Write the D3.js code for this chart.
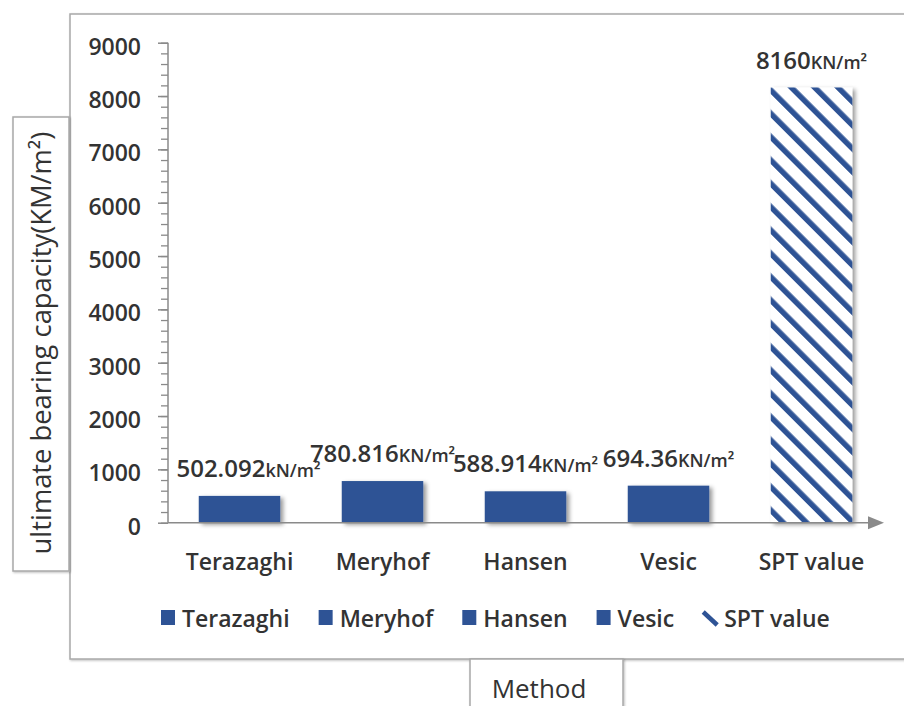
<!DOCTYPE html>
<html>
<head>
<meta charset="utf-8">
<script src="https://cdn.jsdelivr.net/npm/d3@7/dist/d3.min.js"></script>
<style>
  html, body { margin: 0; padding: 0; background: #fff; }
  svg { display: block; font-family: "Open Sans", Lato, sans-serif; }
</style>
</head>
<body>
<svg id="chart" width="904" height="706"></svg>
<script>
const categories = ["Terazaghi", "Meryhof", "Hansen", "Vesic", "SPT value"];
const values = [502.092, 780.816, 588.914, 694.36, 8160];
const valueText = ["502.092", "780.816", "588.914", "694.36", "8160"];
const unitText = ["kN/m²", "KN/m²", "KN/m²", "KN/m²", "KN/m²"];
const yTicks = [0, 1000, 2000, 3000, 4000, 5000, 6000, 7000, 8000, 9000];
const yTitle = "ultimate bearing capacity(KM/m²)";
const xTitle = "Method";

const barColor = "#2E5395";
const textColor = "#333333";
const frameColor = "#a8a8a8";
const fw = 600;

const svg = d3.select("#chart");
const defs = svg.append("defs");

const shadow = defs.append("filter").attr("id", "shadow")
  .attr("x", "-20%").attr("y", "-20%").attr("width", "150%").attr("height", "150%");
shadow.append("feDropShadow").attr("dx", 3).attr("dy", 2).attr("stdDeviation", 2)
  .attr("flood-color", "#000").attr("flood-opacity", 0.4);

const frameShadow = defs.append("filter").attr("id", "fshadow")
  .attr("x", "-5%").attr("y", "-5%").attr("width", "110%").attr("height", "110%");
frameShadow.append("feDropShadow").attr("dx", 1).attr("dy", 1).attr("stdDeviation", 1)
  .attr("flood-color", "#000").attr("flood-opacity", 0.25);

const hatch = defs.append("pattern").attr("id", "hatch")
  .attr("patternUnits", "userSpaceOnUse").attr("width", 16.5).attr("height", 16.5)
  .attr("patternTransform", "rotate(-45)");
hatch.append("rect").attr("width", 16.5).attr("height", 16.5).attr("fill", "#fff");
hatch.append("rect").attr("x", 0).attr("y", 0).attr("width", 5.5).attr("height", 16.5).attr("fill", barColor);

// Outer frame
svg.append("rect").attr("x", 70).attr("y", 14).attr("width", 900).attr("height", 645)
  .attr("fill", "#fff").attr("stroke", frameColor).attr("stroke-width", 1.5)
  .attr("filter", "url(#fshadow)");

// Y title box
svg.append("rect").attr("x", 13).attr("y", 117).attr("width", 56).attr("height", 454)
  .attr("fill", "#fff").attr("stroke", frameColor).attr("stroke-width", 1.5)
  .attr("filter", "url(#fshadow)");
const yt = svg.append("text").attr("transform", "translate(51,343) rotate(-90)")
  .attr("text-anchor", "middle").attr("font-size", 22).attr("font-weight", 500)
  .attr("fill", textColor).text(yTitle);
{
  const w = yt.node().getComputedTextLength();
  yt.attr("font-size", 22 * 423 / w);
}

// X title box
svg.append("rect").attr("x", 470).attr("y", 659).attr("width", 153).attr("height", 60)
  .attr("fill", "#fff").attr("stroke", frameColor).attr("stroke-width", 1.5)
  .attr("filter", "url(#fshadow)");
svg.append("text").attr("x", 539).attr("y", 698)
  .attr("text-anchor", "middle").attr("font-size", 26).attr("font-weight", 500)
  .attr("fill", textColor).text(xTitle);

// Scales
const y = d3.scaleLinear().domain([0, 9000]).range([522.7, 42.7]);
const x = d3.scaleBand().domain(categories).range([168, 883])
  .paddingInner(0.43).paddingOuter(0.215);

// Y axis with minor ticks
const minor = d3.axisLeft(y).tickValues(d3.range(0, 9001, 200)).tickSize(7).tickFormat("");
const gMinor = svg.append("g").attr("transform", "translate(168,0)").call(minor);
gMinor.select(".domain").remove();
gMinor.selectAll("line").attr("stroke", "#8a8a8a").attr("stroke-width", 1.3);

const major = d3.axisLeft(y).tickValues(yTicks).tickSize(10).tickPadding(17)
  .tickFormat(d3.format("d"));
const gY = svg.append("g").attr("transform", "translate(168,0)").call(major);
gY.select(".domain").attr("stroke", "#8a8a8a").attr("stroke-width", 1.5)
  .attr("d", `M0,${y(9000)}V${y(0)}`);
gY.selectAll(".tick line").attr("stroke", "#8a8a8a").attr("stroke-width", 1.5);
gY.selectAll(".tick text").attr("font-size", 23).attr("fill", textColor)
  .attr("font-weight", fw)
  .attr("font-family", "'Open Sans', sans-serif").attr("dy", "0.5em");

// Bars
svg.append("g").selectAll("rect").data(categories).join("rect")
  .attr("x", d => x(d))
  .attr("y", (d, i) => y(values[i]))
  .attr("width", x.bandwidth())
  .attr("height", (d, i) => y(0) - y(values[i]))
  .attr("fill", (d, i) => i === categories.length - 1 ? "url(#hatch)" : barColor)
  .attr("filter", "url(#shadow)");

// X axis with arrow
svg.append("line").attr("x1", 168).attr("x2", 870).attr("y1", y(0)).attr("y2", y(0))
  .attr("stroke", "#8a8a8a").attr("stroke-width", 1.6);
svg.append("path").attr("d", `M868,${y(0) - 6.5}L884,${y(0)}L868,${y(0) + 6.5}Z`)
  .attr("fill", "#8a8a8a");

// Category labels
svg.append("g").selectAll("text").data(categories).join("text")
  .attr("x", d => x(d) + x.bandwidth() / 2)
  .attr("y", 570)
  .attr("text-anchor", "middle").attr("font-size", 23).attr("font-weight", fw)
  .attr("fill", textColor)
  .text(d => d);

// Value labels
const vl = svg.append("g").selectAll("text").data(categories).join("text")
  .attr("x", (d, i) => x(d) + x.bandwidth() / 2 + (i === 0 ? 9 : 0))
  .attr("y", (d, i) => y(values[i]) - 19)
  .attr("text-anchor", "middle").attr("fill", textColor).attr("font-weight", fw);
vl.append("tspan").attr("font-size", 24).text((d, i) => valueText[i]);
vl.append("tspan").attr("font-size", 18).text((d, i) => unitText[i]);

// Legend
const legend = svg.append("g");
let lx = 161;
categories.forEach((c, i) => {
  if (i === categories.length - 1) {
    legend.append("line").attr("x1", lx).attr("y1", 612).attr("x2", lx + 14).attr("y2", 625)
      .attr("stroke", barColor).attr("stroke-width", 4.5);
  } else {
    legend.append("rect").attr("x", lx).attr("y", 610).attr("width", 14).attr("height", 15)
      .attr("fill", barColor);
  }
  const t = legend.append("text").attr("x", lx + 21).attr("y", 627)
    .attr("font-size", 23).attr("font-weight", fw).attr("fill", textColor).text(c);
  lx += 21 + t.node().getComputedTextLength() + 29;
});
</script>
</body>
</html>
